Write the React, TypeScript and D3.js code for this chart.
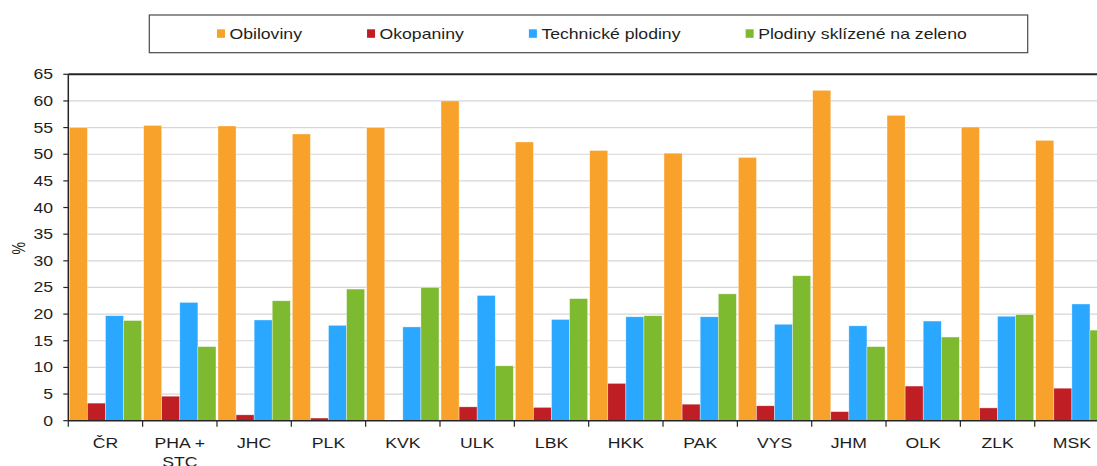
import { range, scaleBand, scaleLinear, select } from 'd3';
import React, { useEffect, useRef } from 'react';

const categories = ['ČR', 'PHA +\nSTC', 'JHC', 'PLK', 'KVK', 'ULK', 'LBK', 'HKK', 'PAK', 'VYS', 'JHM', 'OLK', 'ZLK', 'MSK'];
const obiloviny = [55.0, 55.4, 55.3, 53.8, 55.0, 60.0, 52.3, 50.7, 50.2, 49.4, 62.0, 57.3, 55.1, 52.6];
const okopaniny = [3.3, 4.6, 1.1, 0.5, 0.1, 2.6, 2.5, 7.0, 3.1, 2.8, 1.7, 6.5, 2.4, 6.1];
const technicke = [19.7, 22.2, 18.9, 17.9, 17.6, 23.5, 19.0, 19.5, 19.5, 18.1, 17.8, 18.7, 19.6, 21.9];
const zeleno = [18.8, 13.9, 22.5, 24.7, 25.0, 10.3, 22.9, 19.7, 23.8, 27.2, 13.9, 15.7, 19.9, 17.0];
const seriesNames = ['Obiloviny', 'Okopaniny', 'Technické plodiny', 'Plodiny sklízené na zeleno'];
const yTicks = range(0, 66, 5);

const colors = ['#F8A12B', '#BF1E24', '#2AA8FF', '#7EBA2F'];
const WIDTH = 1097;
const HEIGHT = 466;
const FONT = '"Liberation Sans", Arial, sans-serif';
const SX = 1.26; // the source picture is stretched horizontally
const TEXT = '#1e1e1e';

const App: React.FC = () => {
  const svgRef = useRef<SVGSVGElement>(null);

  useEffect(() => {
    const svg = select(svgRef.current);
    svg.selectAll('*').remove();

    const series = [obiloviny, okopaniny, technicke, zeleno];
    const left = 68.3;
    const step = 74.34;

    // Define Scales
    const xScale = scaleBand<string>()
      .domain(categories)
      .range([left, left + step * categories.length])
      .padding(0);
    const xInner = scaleBand<string>()
      .domain(seriesNames)
      .range([1, xScale.bandwidth() - 1])
      .padding(0);
    const yScale = scaleLinear().domain([0, 65]).range([420.7, 74.3]);

    // Gridlines
    svg
      .append('g')
      .selectAll('line')
      .data(yTicks.filter((t) => t > 0 && t < 65))
      .join('line')
      .attr('x1', left)
      .attr('x2', WIDTH)
      .attr('y1', (d) => yScale(d))
      .attr('y2', (d) => yScale(d))
      .attr('stroke', '#d6d6d6')
      .attr('stroke-width', 1.2);

    // Bars
    const rows = categories.map((c, i) => ({ c, vals: series.map((s) => s[i]) }));
    svg
      .append('g')
      .selectAll('g')
      .data(rows)
      .join('g')
      .attr('transform', (d) => `translate(${xScale(d.c)},0)`)
      .selectAll('rect')
      .data((d) => d.vals.map((v, k) => ({ v, k })))
      .join('rect')
      .attr('x', (d) => xInner(seriesNames[d.k]) as number)
      .attr('width', xInner.bandwidth())
      .attr('y', (d) => yScale(d.v))
      .attr('height', (d) => yScale(0) - yScale(d.v))
      .attr('fill', (d) => colors[d.k])
      .attr('stroke', '#ffffff')
      .attr('stroke-opacity', 0.6)
      .attr('stroke-width', 0.6);

    // Plot frame: top border, left axis, bottom axis
    svg
      .append('line')
      .attr('x1', left)
      .attr('x2', WIDTH)
      .attr('y1', yScale(65))
      .attr('y2', yScale(65))
      .attr('stroke', '#262626')
      .attr('stroke-width', 2);
    svg
      .append('line')
      .attr('x1', left)
      .attr('x2', left)
      .attr('y1', yScale(65))
      .attr('y2', yScale(0))
      .attr('stroke', '#262626')
      .attr('stroke-width', 1.5);
    svg
      .append('line')
      .attr('x1', left)
      .attr('x2', WIDTH)
      .attr('y1', yScale(0))
      .attr('y2', yScale(0))
      .attr('stroke', '#262626')
      .attr('stroke-width', 1.5);

    // Y ticks + labels
    const yAxis = svg.append('g');
    yAxis
      .selectAll('line')
      .data(yTicks)
      .join('line')
      .attr('x1', left - 5)
      .attr('x2', left)
      .attr('y1', (d) => yScale(d))
      .attr('y2', (d) => yScale(d))
      .attr('stroke', '#262626')
      .attr('stroke-width', 1.2);
    yAxis
      .selectAll('text')
      .data(yTicks)
      .join('text')
      .attr('transform', (d) => `translate(53,${yScale(d) + 5}) scale(${SX},1)`)
      .attr('text-anchor', 'end')
      .attr('font-family', FONT)
      .attr('font-size', 14)
      .attr('fill', TEXT)
      .text((d) => d);

    // X ticks + labels
    const xAxis = svg.append('g');
    xAxis
      .selectAll('line')
      .data(range(categories.length + 1))
      .join('line')
      .attr('x1', (i) => left + i * xScale.step())
      .attr('x2', (i) => left + i * xScale.step())
      .attr('y1', yScale(0))
      .attr('y2', yScale(0) + 6)
      .attr('stroke', '#262626')
      .attr('stroke-width', 1.2);
    xAxis
      .selectAll('text')
      .data(categories)
      .join('text')
      .attr(
        'transform',
        (d) => `translate(${(xScale(d) as number) + xScale.bandwidth() / 2},448) scale(${SX},1)`,
      )
      .attr('text-anchor', 'middle')
      .attr('font-family', FONT)
      .attr('font-size', 14)
      .attr('fill', TEXT)
      .selectAll('tspan')
      .data((d) => d.split('\n'))
      .join('tspan')
      .attr('x', 0)
      .attr('y', (_, i) => i * 19.3)
      .text((d) => d);

    // Y label
    svg
      .append('text')
      .attr('transform', `translate(25,248.3) rotate(-90) scale(1,${SX})`)
      .attr('text-anchor', 'middle')
      .attr('font-family', FONT)
      .attr('font-size', 14)
      .attr('fill', TEXT)
      .text('%');

    // Legend
    const legend = svg.append('g');
    legend
      .append('rect')
      .attr('x', 149.3)
      .attr('y', 15)
      .attr('width', 878.4)
      .attr('height', 37.7)
      .attr('fill', '#fff')
      .attr('stroke', '#4a4a4a')
      .attr('stroke-width', 1.2);
    const items = legend
      .selectAll('g')
      .data(seriesNames)
      .join('g');
    items
      .append('rect')
      .attr('y', 29.3)
      .attr('width', 8)
      .attr('height', 8.5)
      .attr('fill', (_, i) => colors[i]);
    const labels = items
      .append('text')
      .attr('y', 39.3)
      .attr('font-family', FONT)
      .attr('font-size', 14)
      .attr('fill', TEXT)
      .text((d) => d);
    const widths = labels.nodes().map((n) => (n as SVGTextElement).getComputedTextLength() * SX);
    const total = widths.reduce((a, w) => a + 12.5 + w, 0) + 65 * (widths.length - 1);
    let cursor = 592 - total / 2;
    const starts: number[] = [];
    widths.forEach((w) => {
      starts.push(cursor);
      cursor += 12.5 + w + 65;
    });
    items.select('rect').attr('x', (_, i) => starts[i]);
    labels.attr('x', 0).attr('transform', (_, i) => `translate(${starts[i] + 12.5},0) scale(${SX},1)`);
  }, []);

  return (
    <svg
      ref={svgRef}
      width={WIDTH}
      height={HEIGHT}
      style={{ position: 'absolute', left: 0, top: 0, background: '#fff' }}
    />
  );
};

export default App;
